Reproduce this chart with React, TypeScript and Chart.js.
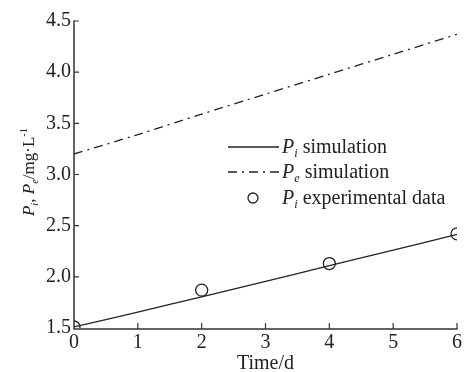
import React, { useEffect, useRef } from "react";
import { Chart, registerables } from "chart.js";

Chart.register(...registerables);

const days = [0, 1, 2, 3, 4, 5, 6];
const piSim = [1.51, 1.655, 1.805, 1.955, 2.11, 2.26, 2.415];
const peSim = [3.2, 3.39, 3.59, 3.785, 3.98, 4.175, 4.37];
const expDays = [0, 2, 4, 6];
const piExp = [1.51, 1.87, 2.13, 2.42];
const yTicks = [1.5, 2.0, 2.5, 3.0, 3.5, 4.0, 4.5];
const xTicks = [0, 1, 2, 3, 4, 5, 6];

const FONT = "'Liberation Serif', 'Times New Roman', serif";
const INK = "#222";

type Part = { t: string; it?: boolean; sub?: boolean; sup?: boolean };

function richWidth(ctx: CanvasRenderingContext2D, parts: Part[], size: number) {
  let w = 0;
  for (const p of parts) {
    const s = p.sub || p.sup ? size * 0.62 : size;
    ctx.font = `${p.it ? "italic " : ""}${s}px ${FONT}`;
    w += ctx.measureText(p.t).width;
  }
  return w;
}

function drawRich(ctx: CanvasRenderingContext2D, parts: Part[], x: number, y: number, size: number) {
  let cx = x;
  ctx.textBaseline = "alphabetic";
  ctx.textAlign = "left";
  for (const p of parts) {
    const s = p.sub || p.sup ? size * 0.62 : size;
    ctx.font = `${p.it ? "italic " : ""}${s}px ${FONT}`;
    let dy = 0;
    if (p.sub) dy = size * 0.22;
    if (p.sup) dy = -size * 0.4;
    ctx.fillText(p.t, cx, y + dy);
    cx += ctx.measureText(p.t).width;
  }
}

const decorPlugin = {
  id: "decor",
  afterDraw(chart: any) {
    const ctx: CanvasRenderingContext2D = chart.ctx;
    const xs = chart.scales.x;
    const ys = chart.scales.y;
    const { left, bottom } = chart.chartArea;
    ctx.save();
    // axes
    ctx.strokeStyle = "#333";
    ctx.lineWidth = 1.5;
    ctx.beginPath();
    ctx.moveTo(left, ys.getPixelForValue(4.5) - 0.5);
    ctx.lineTo(left, bottom + 1);
    ctx.lineTo(xs.getPixelForValue(6) + 0.5, bottom + 1);
    ctx.stroke();
    ctx.lineWidth = 1.2;
    ctx.beginPath();
    for (const v of xTicks.slice(1)) {
      const px = xs.getPixelForValue(v);
      ctx.moveTo(px, bottom + 1);
      ctx.lineTo(px, bottom - 5);
    }
    for (const v of yTicks.slice(1)) {
      const py = ys.getPixelForValue(v);
      ctx.moveTo(left, py);
      ctx.lineTo(left + 5, py);
    }
    ctx.stroke();

    ctx.fillStyle = INK;
    // x title
    ctx.font = `20px ${FONT}`;
    ctx.textAlign = "center";
    ctx.textBaseline = "middle";
    ctx.fillText("Time/d", (xs.left + xs.right) / 2, 364);

    // y title
    const yParts: Part[] = [
      { t: "P", it: true },
      { t: "i", it: true, sub: true },
      { t: ", " },
      { t: "P", it: true },
      { t: "e", it: true, sub: true },
      { t: "/mg·L" },
      { t: "-1", sup: true },
    ];
    const ysz = 17;
    const yw = richWidth(ctx, yParts, ysz);
    ctx.save();
    ctx.translate(34, 172);
    ctx.rotate(-Math.PI / 2);
    ctx.fillStyle = INK;
    drawRich(ctx, yParts, -yw / 2, 0, ysz);
    ctx.restore();

    // legend
    const lsz = 20;
    const lx0 = 228;
    const lx1 = 279;
    const tx = 282;
    const rows = [147, 172, 198];
    ctx.strokeStyle = "#222";
    ctx.lineWidth = 1.3;
    ctx.setLineDash([]);
    ctx.beginPath();
    ctx.moveTo(lx0, rows[0]);
    ctx.lineTo(lx1, rows[0]);
    ctx.stroke();
    ctx.setLineDash([9, 5, 2, 5]);
    ctx.beginPath();
    ctx.moveTo(lx0, rows[1]);
    ctx.lineTo(lx1, rows[1]);
    ctx.stroke();
    ctx.setLineDash([]);
    ctx.beginPath();
    ctx.arc(253, rows[2], 5, 0, Math.PI * 2);
    ctx.stroke();
    ctx.fillStyle = INK;
    drawRich(ctx, [{ t: "P", it: true }, { t: "i", it: true, sub: true }, { t: " simulation" }], tx, rows[0] + 6, lsz);
    drawRich(ctx, [{ t: "P", it: true }, { t: "e", it: true, sub: true }, { t: " simulation" }], tx, rows[1] + 6, lsz);
    drawRich(ctx, [{ t: "P", it: true }, { t: "i", it: true, sub: true }, { t: " experimental data" }], tx, rows[2] + 6, lsz);
    ctx.restore();
  },
};

export default function App() {
  const ref = useRef<HTMLCanvasElement | null>(null);
  useEffect(() => {
    document.body.style.margin = "0";
    const canvas = ref.current!;
    const chart = new Chart(canvas, {
      type: "scatter",
      data: {
        datasets: [
          {
            label: "Pi simulation",
            data: days.map((d, i) => ({ x: d, y: piSim[i] })),
            showLine: true,
            borderColor: "#222",
            borderWidth: 1.3,
            pointRadius: 0,
            tension: 0.3,
          },
          {
            label: "Pe simulation",
            data: days.map((d, i) => ({ x: d, y: peSim[i] })),
            showLine: true,
            borderColor: "#222",
            borderWidth: 1.3,
            borderDash: [9, 5, 2, 5],
            pointRadius: 0,
            tension: 0.3,
          },
          {
            label: "Pi experimental data",
            data: expDays.map((d, i) => ({ x: d, y: piExp[i] })),
            showLine: false,
            borderColor: "#222",
            backgroundColor: "rgba(0,0,0,0)",
            borderWidth: 1.3,
            pointRadius: 6,
            pointStyle: "circle",
          },
        ],
      },
      options: {
        animation: false,
        responsive: false,
        layout: { padding: { left: 0, right: 6, top: 21, bottom: 0 } },
        plugins: { legend: { display: false }, tooltip: { enabled: false } },
        scales: {
          x: {
            type: "linear",
            min: 0,
            max: 6,
            grid: { display: false, drawTicks: false },
            border: { display: false },
            afterBuildTicks: (s: any) => {
              s.ticks = xTicks.map((v) => ({ value: v }));
            },
            afterFit: (s: any) => {
              s.height = 44;
            },
            ticks: {
              padding: 3,
              color: INK,
              font: { family: FONT, size: 20 },
              maxRotation: 0,
              callback: (v: any) => String(v),
            },
          },
          y: {
            type: "linear",
            min: 1.5,
            max: 4.5,
            grid: { display: false, drawTicks: false },
            border: { display: false },
            afterBuildTicks: (s: any) => {
              s.ticks = yTicks.map((v) => ({ value: v }));
            },
            afterFit: (s: any) => {
              s.width = 74;
            },
            ticks: {
              padding: 3,
              color: INK,
              font: { family: FONT, size: 20 },
              callback: (v: any) => Number(v).toFixed(1),
            },
          },
        },
      },
      plugins: [decorPlugin],
    });
    return () => chart.destroy();
  }, []);
  return <canvas ref={ref} width={465} height={372} style={{ display: "block", width: 465, height: 372 }} />;
}
